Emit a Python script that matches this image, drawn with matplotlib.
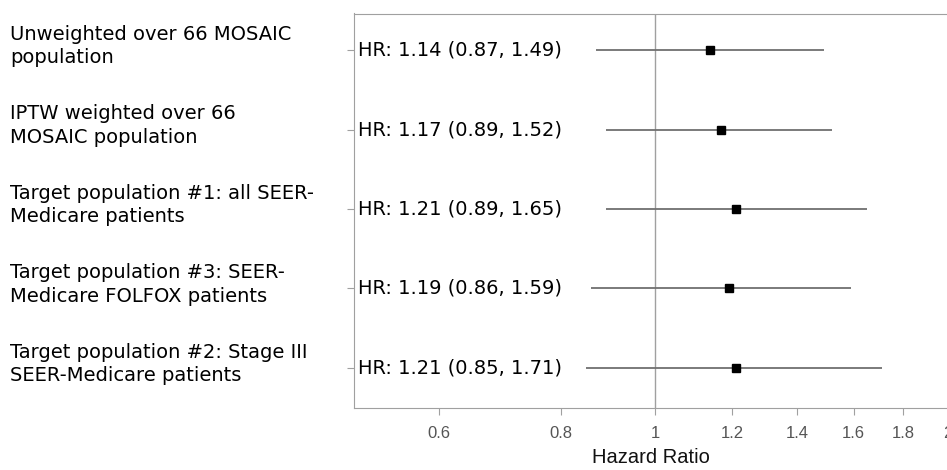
import numpy as np
import matplotlib
matplotlib.use("Agg")
import matplotlib.pyplot as plt

# forest plot data
groups = [
    "Unweighted over 66 MOSAIC\npopulation",
    "IPTW weighted over 66\nMOSAIC population",
    "Target population #1: all SEER-\nMedicare patients",
    "Target population #3: SEER-\nMedicare FOLFOX patients",
    "Target population #2: Stage III\nSEER-Medicare patients",
]
hr = [1.14, 1.17, 1.21, 1.19, 1.21]
ci_low = [0.87, 0.89, 0.89, 0.86, 0.85]
ci_high = [1.49, 1.52, 1.65, 1.59, 1.71]
xticks = [0.6, 0.8, 1, 1.2, 1.4, 1.6, 1.8, 2]
xticklabels = ["0.6", "0.8", "1", "1.2", "1.4", "1.6", "1.8", "2"]

W, H = 947, 470
fig = plt.figure(figsize=(W / 100, H / 100), dpi=100)
ax = fig.add_axes([353.5 / W, 1 - 407.7 / H, (948 - 353.5) / W, (407.7 - 13.5) / H])

ypos = np.arange(len(groups))
ax.axvline(1, color="#a0a0a0", lw=1, zorder=1)
ax.hlines(ypos, ci_low, ci_high, color="#707070", lw=1.3, zorder=2)
ax.plot(hr, ypos, "s", color="black", ms=5.5, zorder=3)

for i in range(len(groups)):
    ax.text(0.0076, ypos[i], f"HR: {hr[i]:.2f} ({ci_low[i]:.2f}, {ci_high[i]:.2f})",
            transform=ax.get_yaxis_transform(), ha="left", va="center",
            fontsize=14, family="DejaVu Sans", color="black")
    ax.text(10 / W, 1 - (ypos[i] * 79.5 + 46) / H, groups[i], transform=fig.transFigure,
            ha="left", va="center", fontsize=14, family="DejaVu Sans", linespacing=1.32)

ax.set_xscale("log")
ax.set_xlim(0.49, 2.0)
ax.set_ylim(4.5, -0.46)
ax.set_xticks(xticks)
ax.set_xticklabels(xticklabels)
ax.xaxis.set_minor_locator(matplotlib.ticker.NullLocator())
ax.set_yticks(ypos)
ax.set_yticklabels([])
ax.tick_params(axis="x", colors="#a0a0a0", labelcolor="#555555", length=5, labelsize=12, pad=8)
ax.tick_params(axis="y", colors="#a0a0a0", length=5)
for lab in ax.get_xticklabels():
    lab.set_family("Liberation Sans")

for s in ax.spines.values():
    s.set_color("#a0a0a0")
ax.spines["right"].set_visible(False)

ax.set_xlabel("Hazard Ratio", fontsize=14.5, family="Liberation Sans", labelpad=5, color="#111111")

fig.savefig("out.png", dpi=100)
